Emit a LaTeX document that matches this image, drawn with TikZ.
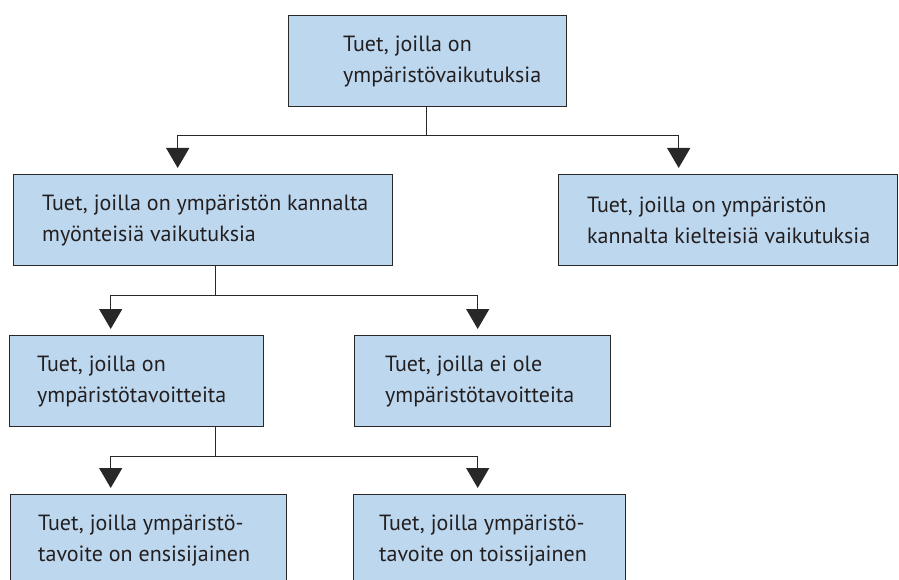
\documentclass[tikz,border=0pt]{standalone}
\usepackage{fontspec}
\setmainfont{PT Sans}
\usetikzlibrary{arrows.meta}
\definecolor{boxfill}{RGB}{189,215,238}
\definecolor{boxline}{RGB}{40,40,40}
\definecolor{txt}{RGB}{35,31,32}
\begin{document}
\begin{tikzpicture}[x=1pt,y=-1pt,
  box/.style={draw=boxline, line width=1.4pt, fill=boxfill, anchor=north west, inner sep=0pt},
  lbl/.style={anchor=west, align=left, inner sep=0pt, text=txt, font=\fontsize{22}{31}\selectfont},
  conn/.style={draw=boxline, line width=1.3pt},
  arr/.style={conn, -{Triangle[width=23pt,length=20pt]}, shorten >=6pt}]
\useasboundingbox (0,0) rectangle (899,580);
\clip (0,0) rectangle (899,580);
% boxes
\node[box, minimum width=278pt, minimum height=91pt] (T) at (288,15) {};
\node[box, minimum width=379pt, minimum height=91pt] (L2) at (13,174) {};
\node[box, minimum width=339pt, minimum height=91pt] (R2) at (558,174) {};
\node[box, minimum width=254pt, minimum height=91pt] (L3) at (9,335) {};
\node[box, minimum width=256pt, minimum height=91pt] (R3) at (354,335) {};
\node[box, minimum width=276pt, minimum height=91pt] (L4) at (10,494) {};
\node[box, minimum width=272pt, minimum height=91pt] (R4) at (353,494) {};
% texts
\node[lbl] (tT) at ([xshift=55pt]T.west) {Tuet, joilla on\\ympäristövaikutuksia};
\node[lbl] (tL2) at ([xshift=29pt]L2.west) {Tuet, joilla on ympäristön kannalta\\myönteisiä vaikutuksia};
\node[lbl] (tR2) at ([xshift=29pt]R2.west) {Tuet, joilla on ympäristön\\kannalta kielteisiä vaikutuksia};
\node[lbl] (tL3) at ([xshift=28pt]L3.west) {Tuet, joilla on\\ympäristötavoitteita};
\node[lbl] (tR3) at ([xshift=31pt]R3.west) {Tuet, joilla ei ole\\ympäristötavoitteita};
\node[lbl] (tL4) at ([xshift=28pt]L4.west) {Tuet, joilla ympäristö-\\tavoite on ensisijainen};
\node[lbl] (tR4) at ([xshift=26pt]R4.west) {Tuet, joilla ympäristö-\\tavoite on toissijainen};
% connectors
\draw[conn] ([xshift=-1pt]T.south) -- ++(0,28) coordinate (j1);
\draw[arr] (j1) -| ([xshift=-25.5pt]L2.north);
\draw[arr] (j1) -| ([xshift=-49.5pt]R2.north);
\draw[conn] ([xshift=12.5pt]L2.south) -- ++(0,29) coordinate (j2);
\draw[arr] (j2) -| ([xshift=-26pt]L3.north);
\draw[arr] (j2) -| ([xshift=-5pt]R3.north);
\draw[conn] ([xshift=79pt]L3.south) -- ++(0,29) coordinate (j3);
\draw[arr] (j3) -| ([xshift=-38pt]L4.north);
\draw[arr] (j3) -| ([xshift=-12pt]R4.north);
\end{tikzpicture}
\end{document}
